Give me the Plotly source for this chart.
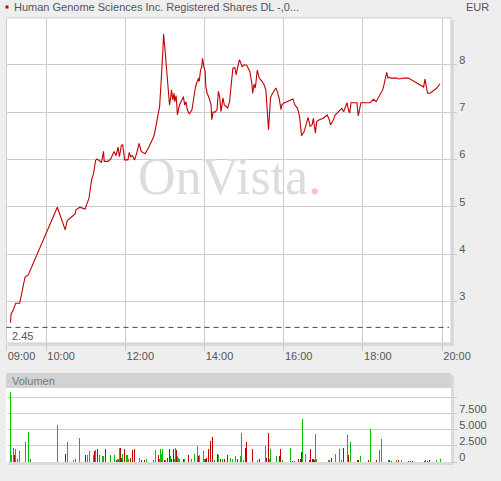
import plotly.graph_objects as go

DAY = "2011-07-20 "

title_text = "Human Genome Sciences Inc. Registered Shares DL -,0..."
currency = "EUR"
reference_price = 2.45

price_times = [
    "09:06", "09:07", "09:10", "09:14", "09:20", "09:28", "09:33", "10:17", "10:29", "10:32",
    "10:44", "10:45", "10:51", "10:59", "11:05", "11:09", "11:12", "11:15", "11:17", "11:24",
    "11:27", "11:28", "11:34", "11:38", "11:43", "11:46", "11:49", "11:51", "11:54", "11:56",
    "11:59", "12:04", "12:06", "12:08", "12:11", "12:14", "12:17", "12:21", "12:24", "12:30",
    "12:35", "12:40", "12:43", "12:45", "12:49", "12:50", "12:52", "12:54", "12:55", "12:57",
    "12:58", "12:59", "13:00", "13:02", "13:04", "13:05", "13:07", "13:09", "13:10", "13:12",
    "13:14", "13:15", "13:17", "13:19", "13:22", "13:26", "13:28", "13:30", "13:32", "13:34",
    "13:37", "13:41", "13:43", "13:46", "13:48", "13:51", "13:52", "13:54", "13:56", "13:57",
    "13:59", "14:01", "14:02", "14:04", "14:07", "14:10", "14:11", "14:13", "14:16", "14:19",
    "14:21", "14:23", "14:25", "14:28", "14:30", "14:33", "14:35", "14:38", "14:40", "14:43",
    "14:46", "14:48", "14:50", "14:53", "14:57", "15:00", "15:04", "15:07", "15:09", "15:12",
    "15:13", "15:15", "15:17", "15:20", "15:23", "15:27", "15:30", "15:33", "15:34", "15:37",
    "15:38", "15:40", "15:42", "15:44", "15:48", "15:50", "15:53", "15:56", "15:57", "16:00",
    "16:05", "16:10", "16:14", "16:17", "16:21", "16:24", "16:27", "16:31", "16:35", "16:37",
    "16:40", "16:43", "16:45", "16:48", "16:50", "16:54", "17:00", "17:06", "17:09", "17:11",
    "17:14", "17:18", "17:21", "17:25", "17:28", "17:31", "17:34", "17:36", "17:38", "17:40",
    "17:42", "17:51", "17:52", "17:53", "17:55", "17:57", "18:11", "18:16", "18:20", "18:24",
    "18:27", "18:30", "18:32", "18:35", "18:36", "18:38", "18:40", "18:42", "18:51", "18:55",
    "19:01", "19:09", "19:14", "19:19", "19:27", "19:32", "19:34", "19:36", "19:38", "19:42",
    "19:47", "19:52", "19:57",
]
price_values = [
    2.55, 2.74, 2.81, 2.96, 2.96, 3.51, 3.56, 4.99, 4.51, 4.71,
    4.85, 4.93, 4.99, 4.95, 5.18, 5.57, 5.71, 5.98, 6.01, 5.94,
    6.17, 5.96, 5.96, 6.01, 6.17, 6.08, 6.26, 6.06, 6.29, 6.31,
    5.99, 5.99, 6.15, 6.06, 6.08, 5.99, 6.12, 6.34, 6.17, 6.12,
    6.24, 6.38, 6.48, 6.60, 6.91, 6.98, 7.12, 7.58, 7.96, 8.32,
    8.65, 8.53, 8.35, 8.00, 7.58, 7.54, 7.15, 7.33, 7.47, 7.26,
    7.40, 7.22, 7.35, 6.94, 7.15, 7.26, 7.33, 7.15, 7.22, 7.05,
    6.96, 7.05, 7.26, 7.51, 7.61, 7.72, 7.65, 7.89, 7.96, 8.14,
    7.96, 7.86, 7.54, 7.40, 7.30, 7.15, 6.84, 7.00, 7.00, 7.05,
    7.44, 7.33, 7.01, 7.30, 7.15, 7.12, 7.08, 7.22, 7.51, 7.93,
    7.94, 7.79, 7.93, 8.11, 7.96, 8.00, 7.99, 7.92, 7.85, 7.58,
    7.40, 7.59, 7.51, 7.89, 7.72, 7.65, 7.59, 7.47, 7.22, 6.63,
    6.84, 7.30, 7.37, 7.42, 7.51, 7.45, 7.30, 7.05, 7.15, 7.19,
    7.22, 7.26, 7.28, 7.15, 7.08, 6.91, 6.50, 6.59, 6.77, 6.89,
    6.70, 6.73, 6.87, 6.56, 6.80, 6.84, 6.87, 6.94, 6.84, 6.73,
    6.80, 6.94, 6.98, 7.05, 7.08, 7.01, 7.12, 7.20, 7.05, 6.98,
    7.20, 7.20, 7.05, 6.92, 7.06, 7.20, 7.20, 7.27, 7.22, 7.33,
    7.40, 7.47, 7.58, 7.75, 7.84, 7.72, 7.74, 7.72, 7.72, 7.70,
    7.72, 7.72, 7.68, 7.63, 7.58, 7.53, 7.70, 7.56, 7.40, 7.40,
    7.46, 7.51, 7.60,
]

vol_up_times = [
    "09:06", "09:07", "09:10", "09:13", "09:17", "09:20", "09:29", "09:33", "09:36", "10:17",
    "10:32", "10:42", "10:44", "10:50", "11:03", "11:06", "11:12", "11:15", "11:21", "11:25",
    "11:27", "11:37", "11:43", "11:48", "11:49", "11:51", "11:56", "12:02", "12:03", "12:05",
    "12:21", "12:32", "12:43", "12:46", "12:52", "12:53", "12:55", "12:56", "13:01", "13:08",
    "13:14", "13:16", "13:19", "13:20", "13:22", "13:30", "13:40", "13:45", "13:49", "13:52",
    "13:58", "14:00", "14:15", "14:21", "14:27", "14:39", "14:42", "14:47", "14:54", "14:56",
    "14:59", "15:15", "15:18", "15:21", "15:32", "15:38", "15:40", "15:49", "15:58", "16:10",
    "16:28", "16:33", "16:48", "16:49", "17:08", "17:09", "17:18", "17:24", "17:27", "17:36",
    "17:41", "17:56", "18:11", "18:25", "18:28", "18:32", "18:39", "18:51", "18:58", "19:35",
    "19:51", "19:57",
]
vol_up_values = [
    10940, 1050, 2250, 2090, 530, 1720, 3125, 4690, 420, 5730,
    3125, 260, 420, 3700, 1050, 1720, 1050, 1830, 1050, 890,
    890, 1050, 1050, 420, 420, 2250, 1300, 1050, 1050, 530,
    680, 530, 260, 1930, 530, 2090, 1200, 2090, 260, 890,
    530, 2250, 890, 680, 530, 530, 530, 1200, 2450, 1050,
    1720, 530, 360, 1050, 530, 680, 530, 890, 890, 4530,
    360, 1050, 530, 360, 2450, 530, 2090, 890, 260, 2250,
    6620, 1300, 4330, 530, 260, 360, 1200, 2090, 260, 4170,
    3125, 890, 5060, 1930, 3650, 360, 260, 360, 360, 360,
    260, 530,
]

vol_down_times = [
    "09:12", "10:29", "10:30", "10:59", "11:13", "11:18", "11:30", "11:46", "11:53", "11:54",
    "11:59", "12:08", "12:11", "12:14", "12:24", "12:29", "12:48", "12:50", "12:59", "13:04",
    "13:07", "13:10", "13:13", "13:17", "13:28", "13:36", "13:51", "14:01", "14:03", "14:06",
    "14:09", "14:12", "14:20", "14:24", "14:30", "14:35", "14:50", "15:02", "15:03", "15:12",
    "15:13", "15:24", "15:34", "15:37", "15:53", "15:55", "16:13", "16:16", "16:22", "16:25",
    "16:27", "16:39", "16:40", "16:43", "16:45", "16:46", "17:12", "17:30", "17:38", "17:52",
    "17:53", "18:08", "18:20", "18:40", "18:43", "18:54", "19:09", "19:12", "19:15", "19:33",
    "19:38", "19:41",
]
vol_down_values = [
    1050, 1200, 1050, 1050, 1670, 2090, 2090, 360, 2250, 680,
    2090, 680, 1830, 2090, 260, 260, 360, 1050, 360, 680,
    2090, 530, 2090, 1830, 530, 1050, 890, 530, 680, 2090,
    3280, 3910, 1300, 530, 530, 1050, 530, 2250, 3125, 1720,
    2090, 420, 680, 4530, 890, 2090, 100, 100, 530, 530,
    1510, 260, 2090, 530, 530, 360, 680, 2250, 1050, 360,
    360, 260, 260, 360, 150, 260, 100, 150, 100, 100,
    150, 360,
]

x_ticks = ["09:00", "10:00", "12:00", "14:00", "16:00", "18:00", "20:00"]
price_ticks = [3, 4, 5, 6, 7, 8]
vol_ticks = [0, 2500, 5000, 7500, 10000]
vol_tick_text = ["0", "2.500", "5.000", "7.500", ""]

W, H = 501, 481
FONT = "Liberation Sans, Arial, sans-serif"
GRID = "#cccccc"
TXT = "#555555"


def px(x):
    return x / W


def py(y):
    return 1 - y / H


def dt(t):
    return DAY + t


x_range = [dt("09:00"), DAY + "20:13:30"]

fig = go.Figure()
fig.add_trace(go.Scatter(
    x=[dt(t) for t in price_times], y=price_values, mode="lines",
    line=dict(color="#c00000", width=1.1), xaxis="x", yaxis="y", hoverinfo="skip",
))
fig.add_trace(go.Bar(
    x=[dt(t) for t in vol_up_times], y=vol_up_values, marker=dict(color="#00c000", line_width=0),
    width=85000, xaxis="x2", yaxis="y2",
))
fig.add_trace(go.Bar(
    x=[dt(t) for t in vol_down_times], y=vol_down_values, marker=dict(color="#c00000", line_width=0),
    width=85000, xaxis="x2", yaxis="y2",
))

main_x = [6.5, 451]
main_y = [18, 343]
vol_y = [388, 462]

shapes = [
    dict(type="rect", xref="paper", yref="paper", x0=px(main_x[0] + 2), x1=px(main_x[1] + 3),
         y0=py(main_y[1] + 3), y1=py(main_y[0] + 2), fillcolor="#dadada", line_width=0, layer="below"),
    dict(type="rect", xref="paper", yref="paper", x0=px(main_x[0]), x1=px(main_x[1]),
         y0=py(main_y[1]), y1=py(main_y[0]), fillcolor="white",
         line=dict(color="#cfcfcf", width=1), layer="below"),
    dict(type="rect", xref="paper", yref="paper", x0=px(main_x[0] + 2), x1=px(main_x[1] + 3),
         y0=py(vol_y[1] + 3), y1=py(373 + 2), fillcolor="#dadada", line_width=0, layer="below"),
    dict(type="rect", xref="paper", yref="paper", x0=px(main_x[0] - 0.5), x1=px(main_x[1]),
         y0=py(vol_y[0]), y1=py(373), fillcolor="#d2d2d2", line_width=0, layer="below"),
    dict(type="rect", xref="paper", yref="paper", x0=px(main_x[0] - 0.5), x1=px(main_x[1]),
         y0=py(vol_y[1]), y1=py(vol_y[0]), fillcolor="white", line_width=0, layer="below"),
    dict(type="line", xref="paper", yref="y", x0=px(main_x[0]), x1=px(449),
         y0=reference_price, y1=reference_price, line=dict(color="#444444", width=1, dash="5px,4px")),
    dict(type="rect", xref="paper", yref="paper", x0=px(5.5), x1=px(8.5), y0=py(8.5), y1=py(5.5),
         fillcolor="#c00000", line_width=0),
]

annotations = [
    dict(text=title_text, xref="paper", yref="paper", x=px(12), y=py(7), xanchor="left",
         yanchor="middle", showarrow=False, font=dict(family=FONT, size=11, color=TXT)),
    dict(text=currency, xref="paper", yref="paper", x=px(491), y=py(7), xanchor="right",
         yanchor="middle", showarrow=False, font=dict(family=FONT, size=11, color=TXT)),
    dict(text="Volumen", xref="paper", yref="paper", x=px(10), y=py(381), xanchor="left",
         yanchor="middle", showarrow=False, font=dict(family=FONT, size=11, color="#777777")),
    dict(text=f"{reference_price:.2f}", xref="paper", yref="paper", x=px(10), y=py(336),
         xanchor="left", yanchor="middle", showarrow=False, font=dict(family=FONT, size=11, color=TXT)),
    dict(text="OnVista<span style='color:#f5c6c6'>.</span>", xref="paper", yref="paper",
         x=px(229), y=py(176), xanchor="center", yanchor="middle", showarrow=False,
         font=dict(family="Liberation Serif, Times New Roman, serif", size=52, color="#dcdcdc")),
]

axis_font = dict(family=FONT, size=11, color=TXT)

fig.update_layout(
    width=W, height=H, margin=dict(l=0, r=0, t=0, b=0, pad=0, autoexpand=False),
    paper_bgcolor="#eeeeee", plot_bgcolor="rgba(0,0,0,0)",
    showlegend=False, barmode="overlay", bargap=0,
    shapes=shapes, annotations=annotations,
    xaxis=dict(
        domain=[px(main_x[0]), px(main_x[1])], range=x_range, type="date", anchor="y",
        tickvals=[dt(t) for t in x_ticks], ticktext=x_ticks, automargin=False,
        showgrid=True, gridcolor=GRID, gridwidth=1, zeroline=False, showline=False,
        ticks="outside", ticklen=7, tickcolor=GRID, tickwidth=1,
        tickfont=axis_font, ticklabelshift=15, ticklabelstandoff=-4,
    ),
    yaxis=dict(
        domain=[py(main_y[1]), py(main_y[0])], range=[2.12, 8.99], anchor="x", side="right",
        tickvals=price_ticks, ticktext=[str(v) for v in price_ticks], automargin=False,
        showgrid=True, gridcolor=GRID, gridwidth=1, zeroline=False, showline=False,
        ticks="outside", ticklen=5, tickcolor=GRID, tickwidth=1,
        tickfont=axis_font, ticklabelshift=-5, ticklabelstandoff=0,
    ),
    xaxis2=dict(
        domain=[px(main_x[0]), px(main_x[1])], range=x_range, type="date", anchor="y2",
        automargin=False,
        showticklabels=False, showgrid=False, zeroline=False, showline=False, ticks="",
    ),
    yaxis2=dict(
        domain=[py(vol_y[1]), py(vol_y[0])], range=[0, 11500], anchor="x2", side="right",
        tickvals=vol_ticks, ticktext=vol_tick_text, automargin=False,
        showgrid=True, gridcolor=GRID, gridwidth=1, zeroline=False, showline=False,
        ticks="outside", ticklen=5, tickcolor=GRID, tickwidth=1,
        tickfont=axis_font, ticklabelshift=-5, ticklabelstandoff=0,
    ),
)

fig.write_html(
    "out.html",
    config={"displayModeBar": False, "staticPlot": True},
    post_script="document.documentElement.style.margin='0';document.body.style.margin='0';"
                "document.body.style.overflow='hidden';",
)
